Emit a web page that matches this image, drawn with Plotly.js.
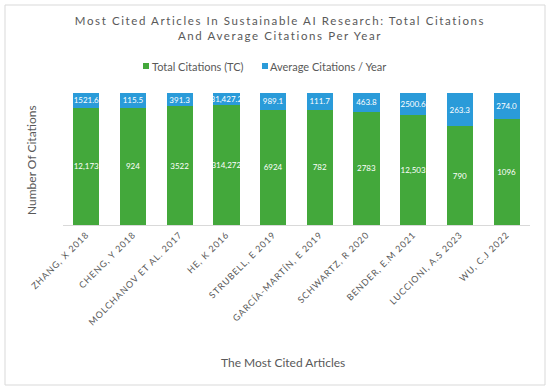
<!DOCTYPE html>
<html>
<head>
<meta charset="utf-8">
<script src="https://cdn.plot.ly/plotly-3.0.1.min.js"></script>
<style>
html,body{margin:0;padding:0;background:#fff;}
#chart{width:550px;height:391px;}
.gtitle{letter-spacing:1.6px;}
.xtick text{letter-spacing:0.9px;}
</style>
</head>
<body>
<div id="chart"></div>
<script>
const articles = ["ZHANG, X 2018","CHENG, Y 2018","MOLCHANOV ET AL. 2017","HE, K 2016","STRUBELL, E 2019","GARCÍA-MARTÍN, E 2019","SCHWARTZ, R 2020","BENDER, E.M 2021","LUCCIONI, A.S 2023","WU, C.J 2022"];
const totalCitations = [12173, 924, 3522, 314272, 6924, 782, 2783, 12503, 790, 1096];
const avgPerYear = [1521.6, 115.5, 391.3, 31427.2, 989.1, 111.7, 463.8, 2500.6, 263.3, 274.0];
const tcLabels = ["12,173","924","3522","314,272","6924","782","2783","12,503","790","1096"];
const avgLabels = ["1521.6","115.5","391.3","31,427.2","989.1","111.7","463.8","2500.6","263.3","274.0"];
const seriesNames = ["Total Citations (TC)", "Average Citations / Year"];
const seriesColors = ["#43a83b", "#2a9bd9"];

const grey = "#595959";
const font = "Lato, 'Open Sans', sans-serif";

const traces = [
  {type:"bar", name:seriesNames[0], x:articles, y:totalCitations, text:tcLabels,
   textposition:"inside", insidetextanchor:"middle", textangle:0, constraintext:"none", cliponaxis:false,
   textfont:{color:"#ffffff", size:8, family:font}, marker:{color:seriesColors[0]}, hoverinfo:"x+y"},
  {type:"bar", name:seriesNames[1], x:articles, y:avgPerYear, text:avgLabels,
   textposition:"inside", insidetextanchor:"middle", textangle:0, constraintext:"none", cliponaxis:false,
   textfont:{color:"#ffffff", size:8, family:font}, marker:{color:seriesColors[1]}, hoverinfo:"x+y"}
];

const L=63, R=530, T=93, B=225, W=R-L, H=B-T;
const px = v => (v-L)/W;
const py = v => (B-v)/H;

const legendItems = [{sx:143, tx:152}, {sx:262, tx:270}];
const legendY = 66;

const annotations = [
  {text:"Number Of Citations", xref:"paper", yref:"paper", x:px(31), y:py(160), xanchor:"center", yanchor:"middle",
   textangle:-90, showarrow:false, font:{size:12, color:grey, family:font}},
  {text:"The Most Cited Articles", xref:"paper", yref:"paper", x:px(283), y:py(362), xanchor:"center", yanchor:"middle",
   showarrow:false, font:{size:12, color:grey, family:font}}
];
const shapes = [
  {type:"rect", xref:"paper", yref:"paper", x0:px(5), x1:px(545), y0:py(385), y1:py(5),
   line:{color:"#d9d9d9", width:1}, fillcolor:"rgba(0,0,0,0)", layer:"below"}
];
legendItems.forEach((it, i) => {
  shapes.push({type:"rect", xref:"paper", yref:"paper", x0:px(it.sx), x1:px(it.sx+6), y0:py(legendY+3), y1:py(legendY-3),
    line:{width:0}, fillcolor:seriesColors[i]});
  annotations.push({text:seriesNames[i], xref:"paper", yref:"paper", x:px(it.tx), y:py(legendY), xanchor:"left", yanchor:"middle",
    showarrow:false, xshift:-2, font:{size:11, color:grey, family:font}});
});

const layout = {
  width:550, height:391,
  margin:{l:L, r:550-R, t:T, b:391-B},
  barmode:"stack", barnorm:"percent", bargap:0.44,
  paper_bgcolor:"#ffffff", plot_bgcolor:"#ffffff",
  font:{family:font, color:grey},
  title:{text:"Most Cited Articles In Sustainable AI Research: Total Citations<br>And Average Citations Per Year",
    font:{size:11.5, color:grey, family:font}, x:280/550, xanchor:"center", y:1-25/391, yanchor:"middle", yref:"container", xref:"container"},
  showlegend:false,
  xaxis:{type:"category", tickangle:-45, tickfont:{size:9, color:grey, family:font},
    showline:true, linecolor:"#d9d9d9", linewidth:1, ticks:"", showgrid:false, zeroline:false, fixedrange:true},
  yaxis:{range:[0,100], showticklabels:false, showgrid:false, zeroline:false, showline:false, ticks:"", fixedrange:true},
  annotations:annotations,
  shapes:shapes
};

Plotly.newPlot("chart", traces, layout, {displayModeBar:false, staticPlot:true});
</script>
</body>
</html>
